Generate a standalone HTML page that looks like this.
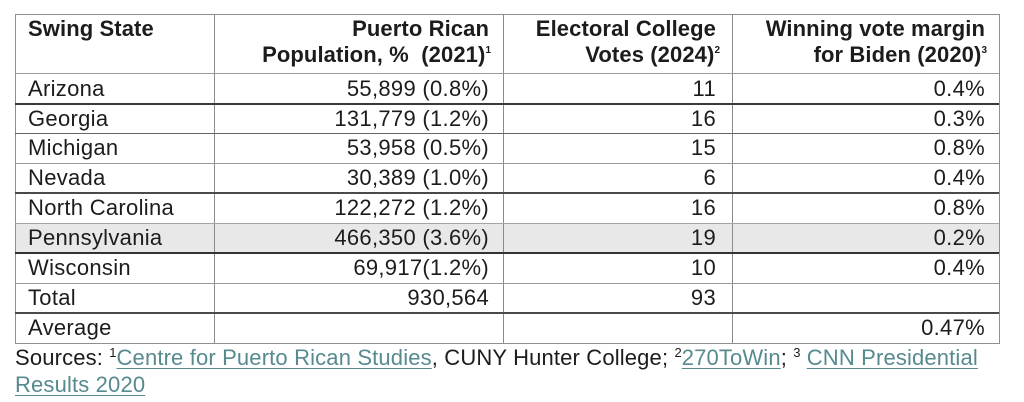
<!DOCTYPE html>
<html>
<head>
<meta charset="utf-8">
<style>
  html, body { margin:0; padding:0; background:#ffffff; }
  body { width:1024px; height:402px; position:relative; overflow:hidden;
         font-family:"Liberation Sans", Arial, sans-serif; color:#1c1c1c; }
  .t { position:absolute; white-space:nowrap; font-size:22px; line-height:22px; letter-spacing:0.3px; }
  .b { font-weight:bold; letter-spacing:0.1px; }
  .r { text-align:right; }
  .hl { position:absolute; left:15px; width:984px; }
  .vl { position:absolute; top:14px; height:329px; width:1px; background:#8a8a8a; }
  .sup { font-size:10px; position:relative; top:-9px; letter-spacing:0; }
  .sup2 { font-size:13px; position:relative; top:-8px; letter-spacing:0; }
  .lnk { color:#568a8e; text-decoration:underline; text-decoration-thickness:1px; text-underline-offset:3px; }
</style>
</head>
<body>
  <!-- shaded row -->
  <div style="position:absolute;left:15px;top:223px;width:984px;height:30px;background:#e8e8e8;"></div>

  <!-- outer border -->
  <div style="position:absolute;left:15px;top:14px;width:983px;height:328px;border:1px solid #8f8f8f;"></div>

  <!-- vertical lines -->
  <div class="vl" style="left:214px;"></div>
  <div class="vl" style="left:503px;"></div>
  <div class="vl" style="left:732px;"></div>

  <!-- horizontal lines -->
  <div class="hl" style="top:73px;height:1px;background:#9a9a9a;"></div>
  <div class="hl" style="top:103px;height:2px;background:#3a3a3a;"></div>
  <div class="hl" style="top:133px;height:1px;background:#666;"></div>
  <div class="hl" style="top:163px;height:1px;background:#9a9a9a;"></div>
  <div class="hl" style="top:192px;height:2px;background:#4a4a4a;"></div>
  <div class="hl" style="top:223px;height:1px;background:#a5a5a5;"></div>
  <div class="hl" style="top:252px;height:2px;background:#333;"></div>
  <div class="hl" style="top:283px;height:1px;background:#9a9a9a;"></div>
  <div class="hl" style="top:312px;height:2px;background:#4a4a4a;"></div>

  <!-- header -->
  <div class="t b" style="left:28px;top:18.4px;">Swing State</div>
  <div class="t b r" style="right:535px;top:18.4px;">Puerto Rican</div>
  <div class="t b r" style="right:533px;top:44.4px;">Population, %&nbsp; (2021)<span class="sup">1</span></div>
  <div class="t b r" style="right:308px;top:18.4px;">Electoral College</div>
  <div class="t b r" style="right:304px;top:44.4px;">Votes (2024)<span class="sup">2</span></div>
  <div class="t b r" style="right:39px;top:18.4px;">Winning vote margin</div>
  <div class="t b r" style="right:37px;top:44.4px;">for Biden (2020)<span class="sup">3</span></div>

  <!-- rows -->
  <div class="t" style="left:28px;top:78.4px;">Arizona</div>
  <div class="t r" style="right:535px;top:78.4px;">55,899 (0.8%)</div>
  <div class="t r" style="right:308px;top:78.4px;">11</div>
  <div class="t r" style="right:39px;top:78.4px;">0.4%</div>

  <div class="t" style="left:28px;top:107.9px;">Georgia</div>
  <div class="t r" style="right:535px;top:107.9px;">131,779 (1.2%)</div>
  <div class="t r" style="right:308px;top:107.9px;">16</div>
  <div class="t r" style="right:39px;top:107.9px;">0.3%</div>

  <div class="t" style="left:28px;top:137.4px;">Michigan</div>
  <div class="t r" style="right:535px;top:137.4px;">53,958 (0.5%)</div>
  <div class="t r" style="right:308px;top:137.4px;">15</div>
  <div class="t r" style="right:39px;top:137.4px;">0.8%</div>

  <div class="t" style="left:28px;top:167.4px;">Nevada</div>
  <div class="t r" style="right:535px;top:167.4px;">30,389 (1.0%)</div>
  <div class="t r" style="right:308px;top:167.4px;">6</div>
  <div class="t r" style="right:39px;top:167.4px;">0.4%</div>

  <div class="t" style="left:28px;top:197.4px;">North Carolina</div>
  <div class="t r" style="right:535px;top:197.4px;">122,272 (1.2%)</div>
  <div class="t r" style="right:308px;top:197.4px;">16</div>
  <div class="t r" style="right:39px;top:197.4px;">0.8%</div>

  <div class="t" style="left:28px;top:227.4px;">Pennsylvania</div>
  <div class="t r" style="right:535px;top:227.4px;">466,350 (3.6%)</div>
  <div class="t r" style="right:308px;top:227.4px;">19</div>
  <div class="t r" style="right:39px;top:227.4px;">0.2%</div>

  <div class="t" style="left:28px;top:257.4px;">Wisconsin</div>
  <div class="t r" style="right:535px;top:257.4px;">69,917(1.2%)</div>
  <div class="t r" style="right:308px;top:257.4px;">10</div>
  <div class="t r" style="right:39px;top:257.4px;">0.4%</div>

  <div class="t" style="left:28px;top:287.4px;">Total</div>
  <div class="t r" style="right:535px;top:287.4px;">930,564</div>
  <div class="t r" style="right:308px;top:287.4px;">93</div>

  <div class="t" style="left:28px;top:316.9px;">Average</div>
  <div class="t r" style="right:39px;top:316.9px;">0.47%</div>

  <!-- sources -->
  <div class="t" style="left:15px;top:347.4px;letter-spacing:0.15px;">Sources: <span class="sup2">1</span><span class="lnk">Centre for Puerto Rican Studies</span>, CUNY Hunter College; <span class="sup2">2</span><span class="lnk">270ToWin</span>; <span class="sup2">3</span> <span class="lnk">CNN Presidential</span></div>
  <div class="t" style="left:15px;top:374.4px;letter-spacing:0.15px;"><span class="lnk">Results 2020</span></div>
</body>
</html>
